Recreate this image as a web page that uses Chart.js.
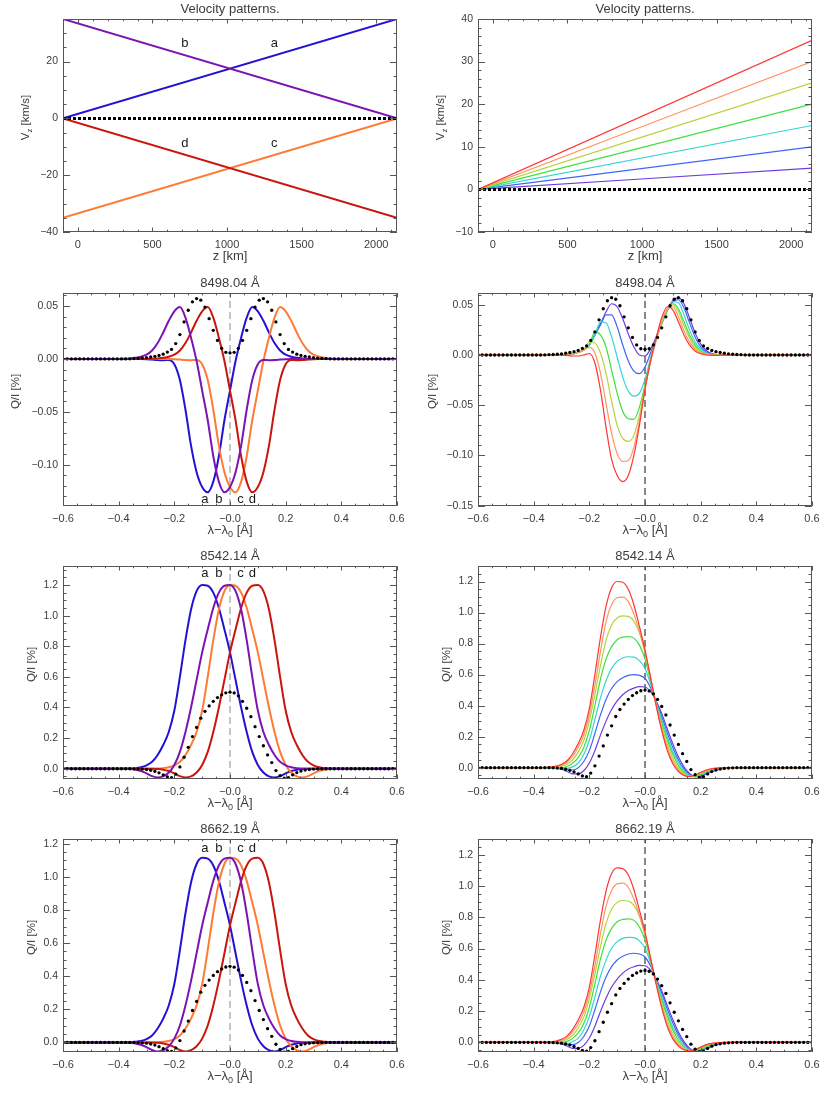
<!DOCTYPE html>
<html><head><meta charset="utf-8">
<script src="https://cdn.jsdelivr.net/npm/chart.js@4.4.1/dist/chart.umd.min.js"></script>
<style>
html,body{margin:0;padding:0;background:#fff;}
#wrap{position:relative;width:830px;height:1093px;overflow:hidden;background:#fff;}
#wrap canvas{position:absolute;}
</style></head>
<body><div id="wrap"></div>
<script>
// ---------------- tick labels / categories ----------------
const KM_TICKS = [0, 500, 1000, 1500, 2000];
const KM_LABELS = ['0', '500', '1000', '1500', '2000'];
const VL_TICKS = [-40, -20, 0, 20];
const VL_LABELS = ['\u221240', '\u221220', '0', '20'];
const VR_TICKS = [-10, 0, 10, 20, 30, 40];
const VR_LABELS = ['\u221210', '0', '10', '20', '30', '40'];
const LAM_TICKS = [-0.6, -0.4, -0.2, 0, 0.2, 0.4, 0.6];
const LAM_LABELS = ['\u22120.6', '\u22120.4', '\u22120.2', '\u22120.0', '0.2', '0.4', '0.6'];
const Q1L_TICKS = [-0.10, -0.05, 0, 0.05];
const Q1L_LABELS = ['\u22120.10', '\u22120.05', '0.00', '0.05'];
const Q1R_TICKS = [-0.15, -0.10, -0.05, 0, 0.05];
const Q1R_LABELS = ['\u22120.15', '\u22120.10', '\u22120.05', '0.00', '0.05'];
const Q2_TICKS = [0, 0.2, 0.4, 0.6, 0.8, 1.0, 1.2];
const Q2_LABELS = ['0.0', '0.2', '0.4', '0.6', '0.8', '1.0', '1.2'];

const TITLE_V = 'Velocity patterns.';
const TITLE_1 = '8498.04 \u00C5';
const TITLE_2 = '8542.14 \u00C5';
const TITLE_3 = '8662.19 \u00C5';

// ---------------- velocity patterns (km/s vs z km) ----------------
const Z_KM = [-100, 2140];
const V_A = [0, 35];
const V_B = [35, 0];
const V_C = [-35, 0];
const V_D = [0, -35];
const V_ZERO = [0, 0];
const V_05 = [0, 5];
const V_10 = [0, 10];
const V_15 = [0, 15];
const V_20 = [0, 20];
const V_25 = [0, 25];
const V_30 = [0, 30];
const V_35 = [0, 35];

// ---------------- wavelength grids ----------------
const LAM = [-0.6,-0.4,-0.38,-0.36,-0.34,-0.32,-0.3,-0.28,-0.26,-0.24,-0.22,-0.2,-0.18,-0.16,-0.14,-0.12,-0.1,-0.08,-0.06,-0.04,-0.02,0,0.02,0.04,0.06,0.08,0.1,0.12,0.14,0.16,0.18,0.2,0.22,0.24,0.26,0.28,0.3,0.32,0.34,0.36,0.38,0.4,0.6];
const LAMD = [-0.6,-0.585,-0.57,-0.555,-0.54,-0.525,-0.51,-0.495,-0.48,-0.465,-0.45,-0.435,-0.42,-0.405,-0.39,-0.375,-0.36,-0.345,-0.33,-0.315,-0.3,-0.285,-0.27,-0.255,-0.24,-0.225,-0.21,-0.195,-0.18,-0.165,-0.15,-0.135,-0.12,-0.105,-0.09,-0.075,-0.06,-0.045,-0.03,-0.015,0,0.015,0.03,0.045,0.06,0.075,0.09,0.105,0.12,0.135,0.15,0.165,0.18,0.195,0.21,0.225,0.24,0.255,0.27,0.285,0.3,0.315,0.33,0.345,0.36,0.375,0.39,0.405,0.42,0.435,0.45,0.465,0.48,0.495,0.51,0.525,0.54,0.555,0.57,0.585,0.6];

// ---------------- 8498.04 ----------------
const Q8498_A = [0, 0,0,0,0,0,-0.0002,-0.0006,-0.001,-0.0012,-0.001,-0.005,-0.020,-0.048,-0.082,-0.107,-0.121,-0.126,-0.116,-0.092,-0.058,-0.030,-0.002,0.020,0.039,0.049,0.045,0.036,0.025,0.015,0.008,0.004,0.002,0.001,0.0004,0.0001,0,0,0,0,0,0, 0];
const Q8498_B = [0, 0,0.0001,0.0004,0.001,0.002,0.004,0.008,0.015,0.025,0.036,0.045,0.049,0.039,0.020,-0.002,-0.030,-0.058,-0.092,-0.116,-0.126,-0.121,-0.107,-0.082,-0.048,-0.020,-0.005,-0.001,-0.0012,-0.001,-0.0006,-0.0002,0,0,0,0,0,0,0,0,0,0, 0];
const Q8498_C = [0, 0,0,0,0,0,0,0,0,0,0,-0.0002,-0.0006,-0.001,-0.0012,-0.001,-0.005,-0.020,-0.048,-0.082,-0.107,-0.121,-0.126,-0.116,-0.092,-0.058,-0.030,-0.002,0.020,0.039,0.049,0.045,0.036,0.025,0.015,0.008,0.004,0.002,0.001,0.0004,0.0001,0, 0];
const Q8498_D = [0, 0,0,0,0,0,0,0.0001,0.0004,0.001,0.002,0.004,0.008,0.015,0.025,0.036,0.045,0.049,0.039,0.020,-0.002,-0.030,-0.058,-0.092,-0.116,-0.126,-0.121,-0.107,-0.082,-0.048,-0.020,-0.005,-0.001,-0.0012,-0.001,-0.0006,-0.0002,0,0,0,0,0, 0];
const Q8498_V05 = [0, 0,0,0,0,0,0.0002,0.0006,0.0012,0.0025,0.005,0.010,0.020,0.031,0.043,0.051,0.048,0.036,0.021,0.008,0.000,-0.001,0.006,0.018,0.032,0.045,0.054,0.057,0.051,0.037,0.022,0.011,0.0045,0.0015,0.0004,0,0,0,0,0,0,0, 0];
const Q8498_V10 = [0, 0,0,0,0,0,0.0002,0.0006,0.0012,0.0025,0.005,0.010,0.020,0.030,0.040,0.040,0.028,0.010,-0.006,-0.016,-0.0185,-0.012,0.002,0.017,0.031,0.044,0.053,0.055,0.047,0.032,0.018,0.008,0.003,0.001,0.0002,0,0,0,0,0,0,0, 0];
const Q8498_V15 = [0, 0,0,0,0,0,0.0002,0.0006,0.0012,0.0025,0.005,0.010,0.020,0.033,0.032,0.018,-0.002,-0.022,-0.036,-0.041,-0.038,-0.024,-0.003,0.016,0.031,0.044,0.053,0.052,0.040,0.025,0.013,0.006,0.0022,0.0007,0.0001,0,0,0,0,0,0,0, 0];
const Q8498_V20 = [0, 0,0,0,0,0,0.0002,0.0006,0.0012,0.0025,0.005,0.010,0.023,0.020,0.008,-0.015,-0.038,-0.056,-0.0635,-0.064,-0.052,-0.030,-0.005,0.015,0.031,0.044,0.051,0.046,0.033,0.020,0.010,0.004,0.0015,0.0004,0,0,0,0,0,0,0,0, 0];
const Q8498_V25 = [0, 0,0,0,0,0,0.0002,0.0006,0.0012,0.0025,0.005,0.013,0.012,0.002,-0.018,-0.046,-0.070,-0.083,-0.086,-0.080,-0.060,-0.032,-0.006,0.015,0.032,0.045,0.050,0.043,0.029,0.017,0.008,0.003,0.001,0.0002,-0.0002,0,0,0,0,0,0,0, 0];
const Q8498_V30 = [0, 0,0,0,0,0,0.0002,0.0006,0.0012,0.0025,0.005,0.0075,0.002,-0.018,-0.048,-0.078,-0.098,-0.106,-0.105,-0.092,-0.066,-0.034,-0.007,0.014,0.033,0.046,0.048,0.038,0.024,0.013,0.006,0.002,0.0005,0,-0.0002,0,0,0,0,0,0,0, 0];
const Q8498_V35 = [0, 0,0,0,0,0,0,-0.0005,-0.001,-0.001,0,0.0015,-0.008,-0.035,-0.072,-0.104,-0.120,-0.126,-0.120,-0.100,-0.070,-0.034,-0.006,0.017,0.037,0.048,0.045,0.033,0.020,0.010,0.004,0.0012,0,-0.0004,-0.0003,-0.0001,0,0,0,0,0,0, 0];
const DOT_8498 = [0,0,0,0,0,0,0,0,0,0,0,0,0,0,0,0,0.0001,0.0003,0.0005,0.0008,0.0012,0.0018,0.0025,0.0033,0.0045,0.0065,0.009,0.0145,0.023,0.035,0.046,0.054,0.057,0.0555,0.049,0.038,0.027,0.0175,0.010,0.0062,0.0057,0.0062,0.010,0.0175,0.027,0.038,0.049,0.0555,0.057,0.054,0.046,0.035,0.023,0.0145,0.009,0.0065,0.0045,0.0033,0.0025,0.0018,0.0012,0.0008,0.0005,0.0003,0.0001,0,0,0,0,0,0,0,0,0,0,0,0,0,0,0,0];

// ---------------- 8542.14 ----------------
const Q8542_A = [0, 0,0,0.001,0.004,0.010,0.022,0.045,0.09,0.155,0.24,0.38,0.60,0.84,1.04,1.16,1.20,1.195,1.15,1.05,0.91,0.76,0.58,0.40,0.24,0.11,0.025,-0.025,-0.05,-0.057,-0.048,-0.03,-0.015,-0.006,-0.002,0,0,0,0,0,0,0, 0];
const Q8542_B = [0, 0,0,-0.002,-0.006,-0.015,-0.03,-0.048,-0.057,-0.05,-0.025,0.025,0.11,0.24,0.40,0.58,0.76,0.91,1.05,1.15,1.195,1.20,1.16,1.04,0.84,0.60,0.38,0.24,0.155,0.09,0.045,0.022,0.010,0.004,0.001,0,0,0,0,0,0,0, 0];
const Q8542_C = [0, 0,0,0,0,0,0,0,0.001,0.004,0.010,0.022,0.045,0.09,0.155,0.24,0.38,0.60,0.84,1.04,1.16,1.20,1.195,1.15,1.05,0.91,0.76,0.58,0.40,0.24,0.11,0.025,-0.025,-0.05,-0.057,-0.048,-0.03,-0.015,-0.006,-0.002,0,0, 0];
const Q8542_D = [0, 0,0,0,0,0,0,0,-0.002,-0.006,-0.015,-0.03,-0.048,-0.057,-0.05,-0.025,0.025,0.11,0.24,0.40,0.58,0.76,0.91,1.05,1.15,1.195,1.20,1.16,1.04,0.84,0.60,0.38,0.24,0.155,0.09,0.045,0.022,0.010,0.004,0.001,0,0, 0];
const Q8542_V05 = [0, 0,0,0,-0.001,-0.003,-0.01,-0.025,-0.04,-0.04,-0.02,0.03,0.11,0.21,0.30,0.375,0.43,0.47,0.497,0.513,0.522,0.52,0.49,0.43,0.35,0.25,0.155,0.07,0.005,-0.038,-0.058,-0.055,-0.041,-0.026,-0.014,-0.006,-0.002,0,0,0,0,0, 0];
const Q8542_V10 = [0, 0,0,0,-0.001,-0.003,-0.008,-0.015,-0.015,0.0,0.04,0.11,0.22,0.34,0.44,0.51,0.555,0.58,0.595,0.60,0.595,0.575,0.515,0.425,0.33,0.225,0.13,0.05,-0.008,-0.045,-0.058,-0.052,-0.037,-0.022,-0.011,-0.004,-0.001,0,0,0,0,0, 0];
const Q8542_V15 = [0, 0,0,0,0,-0.002,-0.004,-0.005,0.005,0.03,0.085,0.175,0.31,0.45,0.56,0.64,0.685,0.707,0.715,0.713,0.69,0.64,0.54,0.42,0.31,0.20,0.105,0.035,-0.02,-0.05,-0.058,-0.048,-0.033,-0.019,-0.009,-0.003,-0.001,0,0,0,0,0, 0];
const Q8542_V20 = [0, 0,0,0,0,0,0,0.008,0.028,0.065,0.13,0.24,0.40,0.57,0.70,0.78,0.825,0.842,0.845,0.835,0.79,0.70,0.56,0.41,0.29,0.18,0.085,0.015,-0.032,-0.055,-0.056,-0.043,-0.028,-0.015,-0.007,-0.002,0,0,0,0,0,0, 0];
const Q8542_V25 = [0, 0,0,0,0.001,0.003,0.008,0.022,0.05,0.10,0.175,0.30,0.47,0.66,0.82,0.92,0.965,0.978,0.975,0.945,0.87,0.74,0.575,0.41,0.27,0.155,0.06,-0.003,-0.042,-0.057,-0.053,-0.038,-0.023,-0.012,-0.005,-0.002,0,0,0,0,0,0, 0];
const Q8542_V30 = [0, 0,0,0.0005,0.003,0.007,0.015,0.035,0.072,0.13,0.21,0.34,0.53,0.75,0.94,1.05,1.095,1.10,1.07,0.99,0.88,0.75,0.58,0.41,0.25,0.13,0.04,-0.015,-0.048,-0.058,-0.05,-0.034,-0.019,-0.009,-0.003,-0.001,0,0,0,0,0,0, 0];
const Q8542_V35 = [0, 0,0,0.001,0.004,0.010,0.022,0.045,0.09,0.155,0.24,0.38,0.60,0.84,1.04,1.16,1.20,1.195,1.15,1.05,0.91,0.76,0.58,0.40,0.24,0.11,0.025,-0.025,-0.05,-0.057,-0.048,-0.03,-0.015,-0.006,-0.002,0,0,0,0,0,0,0, 0];
const DOT_8542 = [0,0,0,0,0,0,0,0,0,0,0,0,0,0,0,0,0,-0.0003,-0.001,-0.0025,-0.005,-0.010,-0.017,-0.027,-0.040,-0.053,-0.058,-0.035,0.012,0.075,0.14,0.21,0.27,0.33,0.375,0.41,0.44,0.465,0.483,0.496,0.500,0.495,0.476,0.44,0.395,0.34,0.275,0.21,0.15,0.09,0.04,-0.012,-0.045,-0.062,-0.058,-0.04,-0.025,-0.015,-0.009,-0.005,-0.0025,-0.001,-0.0003,0,0,0,0,0,0,0,0,0,0,0,0,0,0,0,0,0,0];

// ---------------- 8662.19 ----------------
const Q8662_A = [0, 0,0,0.001,0.004,0.009,0.020,0.042,0.084,0.144,0.223,0.353,0.558,0.781,0.967,1.079,1.116,1.111,1.070,0.977,0.846,0.707,0.539,0.372,0.223,0.102,0.023,-0.023,-0.047,-0.055,-0.046,-0.029,-0.014,-0.006,-0.002,0,0,0,0,0,0,0, 0];
const Q8662_B = [0, 0,0,-0.002,-0.006,-0.014,-0.029,-0.046,-0.055,-0.047,-0.023,0.023,0.102,0.223,0.372,0.539,0.707,0.846,0.977,1.070,1.111,1.116,1.079,0.967,0.781,0.558,0.353,0.223,0.144,0.084,0.042,0.020,0.009,0.004,0.001,0,0,0,0,0,0,0, 0];
const Q8662_C = [0, 0,0,0,0,0,0,0,0.001,0.004,0.009,0.020,0.042,0.084,0.144,0.223,0.353,0.558,0.781,0.967,1.079,1.116,1.111,1.070,0.977,0.846,0.707,0.539,0.372,0.223,0.102,0.023,-0.023,-0.047,-0.055,-0.046,-0.029,-0.014,-0.006,-0.002,0,0, 0];
const Q8662_D = [0, 0,0,0,0,0,0,0,-0.002,-0.006,-0.014,-0.029,-0.046,-0.055,-0.047,-0.023,0.023,0.102,0.223,0.372,0.539,0.707,0.846,0.977,1.070,1.111,1.116,1.079,0.967,0.781,0.558,0.353,0.223,0.144,0.084,0.042,0.020,0.009,0.004,0.001,0,0, 0];
const Q8662_V05 = [0, 0,0,0,-0.001,-0.003,-0.009,-0.024,-0.038,-0.038,-0.019,0.028,0.104,0.198,0.283,0.354,0.405,0.443,0.469,0.484,0.492,0.490,0.462,0.405,0.330,0.236,0.146,0.066,0.005,-0.036,-0.055,-0.052,-0.039,-0.025,-0.013,-0.006,-0.002,0,0,0,0,0, 0];
const Q8662_V10 = [0, 0,0,0,-0.001,-0.003,-0.008,-0.014,-0.014,0.0,0.038,0.105,0.209,0.323,0.418,0.485,0.527,0.551,0.565,0.570,0.565,0.546,0.489,0.404,0.314,0.214,0.124,0.048,-0.008,-0.043,-0.055,-0.049,-0.035,-0.021,-0.010,-0.004,-0.001,0,0,0,0,0, 0];
const Q8662_V15 = [0, 0,0,0,0,-0.002,-0.004,-0.005,0.005,0.028,0.080,0.165,0.291,0.423,0.526,0.602,0.644,0.665,0.672,0.670,0.649,0.602,0.508,0.395,0.291,0.188,0.099,0.033,-0.019,-0.047,-0.055,-0.045,-0.031,-0.018,-0.008,-0.003,-0.001,0,0,0,0,0, 0];
const Q8662_V20 = [0, 0,0,0,0,0,0,0.007,0.026,0.061,0.121,0.224,0.374,0.532,0.654,0.729,0.771,0.786,0.789,0.780,0.738,0.654,0.523,0.383,0.271,0.168,0.079,0.014,-0.030,-0.051,-0.052,-0.040,-0.026,-0.014,-0.007,-0.002,0,0,0,0,0,0, 0];
const Q8662_V25 = [0, 0,0,0,0.001,0.003,0.007,0.020,0.046,0.093,0.162,0.278,0.436,0.612,0.760,0.853,0.895,0.907,0.904,0.876,0.806,0.686,0.533,0.380,0.250,0.144,0.056,-0.003,-0.039,-0.053,-0.049,-0.035,-0.021,-0.011,-0.005,-0.002,0,0,0,0,0,0, 0];
const Q8662_V30 = [0, 0,0,0.0005,0.003,0.006,0.014,0.032,0.067,0.120,0.194,0.315,0.490,0.694,0.870,0.971,1.013,1.018,0.990,0.916,0.814,0.694,0.537,0.379,0.231,0.120,0.037,-0.014,-0.045,-0.054,-0.046,-0.031,-0.018,-0.008,-0.003,-0.001,0,0,0,0,0,0, 0];
const Q8662_V35 = [0, 0,0,0.001,0.004,0.009,0.020,0.042,0.084,0.144,0.223,0.353,0.558,0.781,0.967,1.079,1.116,1.111,1.070,0.977,0.846,0.707,0.539,0.372,0.223,0.102,0.023,-0.023,-0.047,-0.055,-0.046,-0.029,-0.014,-0.006,-0.002,0,0,0,0,0,0,0, 0];
const DOT_8662 = [0,0,0,0,0,0,0,0,0,0,0,0,0,0,0,0,0,-0.0003,-0.001,-0.0024,-0.0048,-0.0095,-0.016,-0.026,-0.038,-0.05,-0.055,-0.033,0.011,0.069,0.129,0.193,0.248,0.304,0.345,0.377,0.405,0.428,0.444,0.456,0.460,0.455,0.438,0.405,0.363,0.313,0.253,0.193,0.138,0.083,0.037,-0.011,-0.043,-0.059,-0.055,-0.038,-0.024,-0.014,-0.0085,-0.0048,-0.0024,-0.001,-0.0003,0,0,0,0,0,0,0,0,0,0,0,0,0,0,0,0,0,0];

// ---------------- curve labels ----------------
const LBL_TXT = ['a', 'b', 'c', 'd'];
const LBL_V_X = [1317, 718, 1317, 718];
const LBL_V_Y = [26.3, 26.3, -8.9, -8.9];
const LBL_Q_X = [-0.090, -0.040, 0.038, 0.080];
const LBL_Q1_Y = -0.1327;
const LBL_Q2_Y = 1.276;
const LBL_Q3_Y = 1.174;

// ---------------- styling ----------------
const FONT = "'Liberation Sans', Arial, sans-serif";
const AXIS = '#555';
const TXT = '#3c3c3c';
const COL_L = { a: '#2412d4', b: '#7b14b2', c: '#ff7a34', d: '#c8160c' };
const COL_R = ['#6c3ce0', '#4064f5', '#36d4d4', '#3ce03c', '#b6d43a', '#ff9562', '#ff3434'];
const ROW_TOP = [0, 274, 547, 820];

function line(xs, ys, color, width, order, name, extra) {
  if (xs.length !== ys.length) throw new Error('length mismatch ' + name + ': ' + xs.length + ' vs ' + ys.length);
  return Object.assign({
    label: name, data: xs.map((x, i) => ({ x: x, y: ys[i] })),
    borderColor: color, backgroundColor: color, borderWidth: width,
    pointRadius: 0, pointHoverRadius: 0, fill: false, order: order,
    tension: 0, cubicInterpolationMode: 'monotone'
  }, extra || {});
}
function dots(xs, ys, name) {
  if (xs.length !== ys.length) throw new Error('length mismatch ' + name + ': ' + xs.length + ' vs ' + ys.length);
  return {
    label: name, data: xs.map((x, i) => ({ x: x, y: ys[i] })), showLine: false,
    pointRadius: 1.65, pointHoverRadius: 0, pointBackgroundColor: '#000', pointBorderColor: '#000',
    pointBorderWidth: 0, order: 0
  };
}
function vdash(yr, color) {
  return line([0, 0], yr, color, 1, 20, 'zero', { borderDash: [7, 4], cubicInterpolationMode: 'default' });
}
function rightSets(vals, dotVals, yr) {
  const s = [dots(LAMD, dotVals, 'dots')];
  for (let i = vals.length - 1; i >= 0; i--) s.push(line(LAM, vals[i], COL_R[i], 1.2, 1 + (vals.length - 1 - i), 'v' + i));
  s.push(vdash(yr, '#111'));
  return s;
}
function leftSets(A, B, C, D, dotVals, yr) {
  return [dots(LAMD, dotVals, 'dots'),
    line(LAM, B, COL_L.b, 2, 1, 'b'), line(LAM, D, COL_L.d, 2, 2, 'd'),
    line(LAM, C, COL_L.c, 2, 3, 'c'), line(LAM, A, COL_L.a, 2, 4, 'a'),
    vdash(yr, '#8c8c8c')];
}

const Y_Q1L = [-0.139, 0.0623], Y_Q1R = [-0.1503, 0.0617];
const Y_Q2L = [-0.067, 1.324], Y_Q2R = [-0.073, 1.30];
const Y_Q3L = [-0.058, 1.23], Y_Q3R = [-0.061, 1.30];
const XT_LAM = [{ t: '\u03BB\u2212\u03BB' }, { t: '0', sub: 1 }, { t: ' [\u00C5]' }];
const YT_Q = [{ t: 'Q/I [%]' }];
const YT_V = [{ t: 'V' }, { t: 'z', sub: 1 }, { t: ' [km/s]' }];
const XT_Z = [{ t: 'z [km]' }];

const panels = [
  { col: 0, row: 0, xr: Z_KM, yr: [-40, 35], xt: KM_TICKS, xl: KM_LABELS, xm: 100, yt: VL_TICKS, yl: VL_LABELS, ym: 5,
    title: TITLE_V, xtitle: XT_Z, ytitle: YT_V, ytx: 26,
    sets: [line(Z_KM, V_ZERO, '#000', 3, 0, 'zero', { borderDash: [3, 2] }),
      line(Z_KM, V_B, COL_L.b, 2, 1, 'b'), line(Z_KM, V_D, COL_L.d, 2, 2, 'd'),
      line(Z_KM, V_C, COL_L.c, 2, 3, 'c'), line(Z_KM, V_A, COL_L.a, 2, 4, 'a')],
    labels: LBL_TXT.map((t, i) => ({ t: t, x: LBL_V_X[i], y: LBL_V_Y[i] })) },
  { col: 1, row: 0, xr: Z_KM, yr: [-10, 40], xt: KM_TICKS, xl: KM_LABELS, xm: 100, yt: VR_TICKS, yl: VR_LABELS, ym: 2,
    title: TITLE_V, xtitle: XT_Z, ytitle: YT_V, ytx: 26,
    sets: [line(Z_KM, V_ZERO, '#000', 3, 0, 'zero', { borderDash: [3, 2] })].concat(
      [V_05, V_10, V_15, V_20, V_25, V_30, V_35].map((v, i) => line(Z_KM, v, COL_R[i], 1.2, 7 - i, 'v' + i))),
    labels: [] },
  { col: 0, row: 1, xr: [-0.6, 0.6], yr: Y_Q1L, xt: LAM_TICKS, xl: LAM_LABELS, xm: 0.05, yt: Q1L_TICKS, yl: Q1L_LABELS, ym: 0.01,
    title: TITLE_1, xtitle: XT_LAM, ytitle: YT_Q, ytx: 16,
    sets: leftSets(Q8498_A, Q8498_B, Q8498_C, Q8498_D, DOT_8498, Y_Q1L),
    labels: LBL_TXT.map((t, i) => ({ t: t, x: LBL_Q_X[i], y: LBL_Q1_Y })) },
  { col: 1, row: 1, xr: [-0.6, 0.6], yr: Y_Q1R, xt: LAM_TICKS, xl: LAM_LABELS, xm: 0.05, yt: Q1R_TICKS, yl: Q1R_LABELS, ym: 0.01,
    title: TITLE_1, xtitle: XT_LAM, ytitle: YT_Q, ytx: 18,
    sets: rightSets([Q8498_V05, Q8498_V10, Q8498_V15, Q8498_V20, Q8498_V25, Q8498_V30, Q8498_V35], DOT_8498, Y_Q1R),
    labels: [] },
  { col: 0, row: 2, xr: [-0.6, 0.6], yr: Y_Q2L, xt: LAM_TICKS, xl: LAM_LABELS, xm: 0.05, yt: Q2_TICKS, yl: Q2_LABELS, ym: 0.05,
    title: TITLE_2, xtitle: XT_LAM, ytitle: YT_Q, ytx: 32,
    sets: leftSets(Q8542_A, Q8542_B, Q8542_C, Q8542_D, DOT_8542, Y_Q2L),
    labels: LBL_TXT.map((t, i) => ({ t: t, x: LBL_Q_X[i], y: LBL_Q2_Y })) },
  { col: 1, row: 2, xr: [-0.6, 0.6], yr: Y_Q2R, xt: LAM_TICKS, xl: LAM_LABELS, xm: 0.05, yt: Q2_TICKS, yl: Q2_LABELS, ym: 0.05,
    title: TITLE_2, xtitle: XT_LAM, ytitle: YT_Q, ytx: 32,
    sets: rightSets([Q8542_V05, Q8542_V10, Q8542_V15, Q8542_V20, Q8542_V25, Q8542_V30, Q8542_V35], DOT_8542, Y_Q2R),
    labels: [] },
  { col: 0, row: 3, xr: [-0.6, 0.6], yr: Y_Q3L, xt: LAM_TICKS, xl: LAM_LABELS, xm: 0.05, yt: Q2_TICKS, yl: Q2_LABELS, ym: 0.05,
    title: TITLE_3, xtitle: XT_LAM, ytitle: YT_Q, ytx: 32,
    sets: leftSets(Q8662_A, Q8662_B, Q8662_C, Q8662_D, DOT_8662, Y_Q3L),
    labels: LBL_TXT.map((t, i) => ({ t: t, x: LBL_Q_X[i], y: LBL_Q3_Y })) },
  { col: 1, row: 3, xr: [-0.6, 0.6], yr: Y_Q3R, xt: LAM_TICKS, xl: LAM_LABELS, xm: 0.05, yt: Q2_TICKS, yl: Q2_LABELS, ym: 0.05,
    title: TITLE_3, xtitle: XT_LAM, ytitle: YT_Q, ytx: 32,
    sets: rightSets([Q8662_V05, Q8662_V10, Q8662_V15, Q8662_V20, Q8662_V25, Q8662_V30, Q8662_V35], DOT_8662, Y_Q3R),
    labels: [] }
];

function minors(range, step, majors) {
  const out = [];
  const k0 = Math.ceil(range[0] / step - 1e-6), k1 = Math.floor(range[1] / step + 1e-6);
  for (let k = k0; k <= k1; k++) {
    const v = k * step;
    if (!majors.some(m => Math.abs(m - v) < step * 1e-3)) out.push(v);
  }
  return out;
}
function rich(ctx, parts, cx, cy, size) {
  const big = size + 'px ' + FONT, small = Math.round(size * 0.72) + 'px ' + FONT;
  let w = 0;
  const ws = parts.map(p => { ctx.font = p.sub ? small : big; const m = ctx.measureText(p.t).width; w += m; return m; });
  let xx = cx - w / 2;
  ctx.textAlign = 'left'; ctx.textBaseline = 'middle';
  parts.forEach((p, i) => { ctx.font = p.sub ? small : big; ctx.fillText(p.t, xx, cy + (p.sub ? size * 0.32 : 0)); xx += ws[i]; });
}
function makeIdl(p) {
  return {
    id: 'idlframe',
    afterDraw(chart) {
      const ctx = chart.ctx, a = chart.chartArea, sx = chart.scales.x, sy = chart.scales.y;
      ctx.save();
      ctx.strokeStyle = AXIS; ctx.lineWidth = 1;
      ctx.beginPath();
      ctx.rect(a.left + 0.5, a.top + 0.5, a.right - a.left - 1, a.bottom - a.top - 1);
      const tx = (v, L) => { const px = Math.round(sx.getPixelForValue(v)) + 0.5; ctx.moveTo(px, a.bottom); ctx.lineTo(px, a.bottom - L); ctx.moveTo(px, a.top); ctx.lineTo(px, a.top + L); };
      const ty = (v, L) => { const py = Math.round(sy.getPixelForValue(v)) + 0.5; ctx.moveTo(a.left, py); ctx.lineTo(a.left + L, py); ctx.moveTo(a.right, py); ctx.lineTo(a.right - L, py); };
      p.xt.forEach(v => tx(v, 4.5));
      minors(p.xr, p.xm, p.xt).forEach(v => tx(v, 2.3));
      p.yt.forEach(v => ty(v, 7));
      minors(p.yr, p.ym, p.yt).forEach(v => ty(v, 3.5));
      ctx.stroke();
      // titles
      ctx.fillStyle = TXT;
      ctx.font = '13px ' + FONT; ctx.textAlign = 'center'; ctx.textBaseline = 'middle';
      const cx = (a.left + a.right) / 2;
      ctx.fillText(p.title, cx, 9);
      rich(ctx, p.xtitle, cx, 256, 13);
      ctx.save();
      ctx.translate(p.ytx, (a.top + a.bottom) / 2 - 8);
      ctx.rotate(-Math.PI / 2);
      rich(ctx, p.ytitle, 0, 0, 11.5);
      ctx.restore();
      // curve labels
      ctx.fillStyle = '#1a1a1a'; ctx.font = '13px ' + FONT; ctx.textAlign = 'center'; ctx.textBaseline = 'middle';
      p.labels.forEach(l => ctx.fillText(l.t, sx.getPixelForValue(l.x), sy.getPixelForValue(l.y)));
      ctx.restore();
    }
  };
}

const wrap = document.getElementById('wrap');
panels.forEach(p => {
  const c = document.createElement('canvas');
  c.width = 415; c.height = 273;
  c.style.left = (p.col * 415) + 'px'; c.style.top = ROW_TOP[p.row] + 'px';
  c.style.width = '415px'; c.style.height = '273px';
  wrap.appendChild(c);
  new Chart(c, {
    type: 'line',
    data: { datasets: p.sets },
    options: {
      responsive: false, animation: false, devicePixelRatio: 1, events: [],
      layout: { padding: { top: 19, right: 18, left: 0, bottom: 0 } },
      plugins: { legend: { display: false }, tooltip: { enabled: false }, title: { display: false } },
      scales: {
        x: {
          type: 'linear', min: p.xr[0], max: p.xr[1],
          grid: { display: false, drawTicks: false }, border: { display: false },
          afterBuildTicks: s => { s.ticks = p.xt.map(v => ({ value: v })); },
          afterFit: s => { s.height = 41; s.paddingLeft = 0; s.paddingRight = 0; },
          ticks: { autoSkip: false, maxRotation: 0, minRotation: 0, padding: 6, color: TXT,
            font: { family: FONT, size: 11 }, callback: (v, i) => p.xl[i] }
        },
        y: {
          type: 'linear', min: p.yr[0], max: p.yr[1],
          grid: { display: false, drawTicks: false }, border: { display: false },
          afterBuildTicks: s => { s.ticks = p.yt.map(v => ({ value: v })); },
          afterFit: s => { s.width = 63; s.paddingTop = 0; s.paddingBottom = 0; },
          ticks: { autoSkip: false, padding: 5, color: TXT,
            font: { family: FONT, size: 10.5 }, callback: (v, i) => p.yl[i] }
        }
      }
    },
    plugins: [makeIdl(p)]
  });
});
</script>
</body></html>
